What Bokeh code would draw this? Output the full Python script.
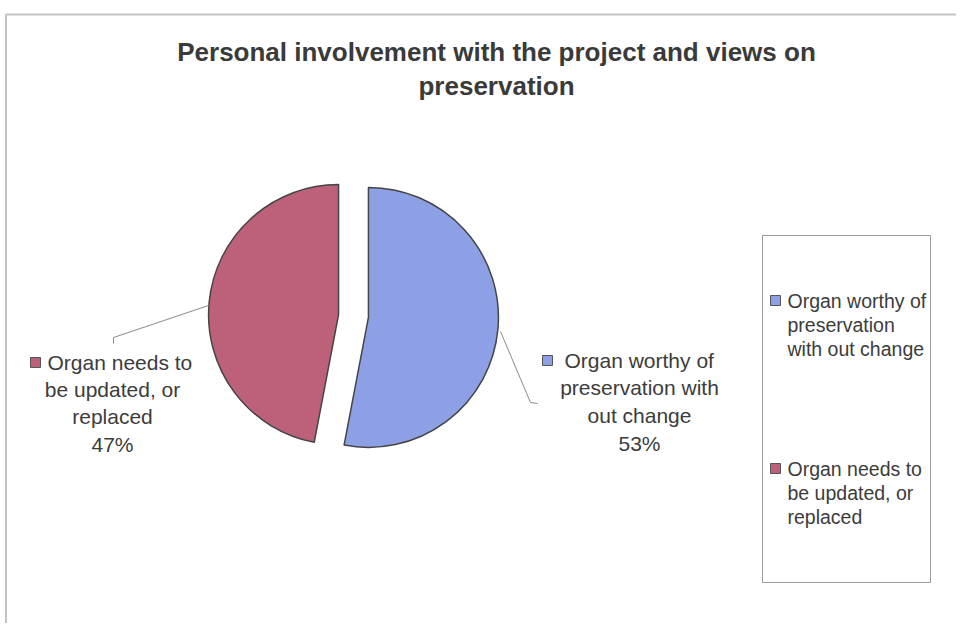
import math
from bokeh.plotting import figure
from bokeh.models import ColumnDataSource
from bokeh.core.properties import value
from bokeh.embed import file_html
from bokeh.resources import INLINE

# ---- data ----
categories = ["Organ worthy of preservation with out change",
              "Organ needs to be updated, or replaced"]
values = [53, 47]
pct_labels = ["53%", "47%"]
label_lines = [["Organ worthy of", "preservation with", "out change"],
               ["Organ needs to", "be updated, or", "replaced"]]
legend_lines = [["Organ worthy of", "preservation", "with out change"],
                ["Organ needs to", "be updated, or", "replaced"]]
colors = ["#8da0e6", "#bd6079"]
title_lines = ["Personal involvement with the project and views on", "preservation"]

W, H = 956, 623
FONT = "Liberation Sans"
TXT = "#3c3c3c"

def Y(py):  # picture y -> data y
    return H - py

def X(px):
    return px

p = figure(width=W, height=H, x_range=(0, W), y_range=(0, H),
           output_backend="svg", toolbar_location=None,
           x_axis_type=None, y_axis_type=None, min_border=0,
           outline_line_color=None, background_fill_color="white",
           border_fill_color="white")
p.grid.visible = False

# chart area border (top and left visible)
p.line(x=[X(5.5), X(5.5), W], y=[0, Y(14), Y(14)], line_color="#c4c4c4", line_width=2)

# title
p.text(x=[X(496)] * 2, y=[Y(51), Y(85)], text=title_lines,
       text_font=value(FONT), text_font_size="26px", text_font_style="bold",
       text_color="#3a3a3a", text_align="center", text_baseline="middle")

# pie
total = sum(values)
cx, cy, r, explode = X(353), Y(315.5), 130, 15
cum = 0.0
starts, ends, xs, ys = [], [], [], []
for v in values:
    c0 = cum / total
    c1 = (cum + v) / total
    cum += v
    s = math.pi / 2 - c1 * 2 * math.pi
    e = math.pi / 2 - c0 * 2 * math.pi
    mid = (s + e) / 2
    starts.append(s)
    ends.append(e)
    xs.append(cx + explode * math.cos(mid))
    ys.append(cy + explode * math.sin(mid))
src = ColumnDataSource(dict(x=xs, y=ys, start=starts, end=ends, color=colors, cat=categories))
p.wedge(x="x", y="y", radius=r, start_angle="start", end_angle="end",
        fill_color="color", line_color="#454545", line_width=1.5, source=src)

# leader lines
p.line(x=[X(500), X(530), X(537)], y=[Y(331), Y(402), Y(403)], line_color="#8a8a8a", line_width=1)
p.line(x=[X(208), X(113), X(113)], y=[Y(305), Y(337), Y(343)], line_color="#8a8a8a", line_width=1)

# data labels
lab_font = "21px"
# blue label
p.rect(x=[X(547)], y=[Y(360)], width=10, height=10, fill_color=colors[0], line_color="#555555", line_width=1)
p.text(x=[X(564)], y=[Y(360)], text=[label_lines[0][0]], text_font=value(FONT), text_font_size=lab_font,
       text_color=TXT, text_align="left", text_baseline="middle")
p.text(x=[X(639)] * 3, y=[Y(387), Y(415), Y(443)], text=[label_lines[0][1], label_lines[0][2], pct_labels[0]],
       text_font=value(FONT), text_font_size=lab_font, text_color=TXT,
       text_align="center", text_baseline="middle")
# red label
p.rect(x=[X(35)], y=[Y(362)], width=10, height=10, fill_color=colors[1], line_color="#555555", line_width=1)
p.text(x=[X(47)], y=[Y(362)], text=[label_lines[1][0]], text_font=value(FONT), text_font_size=lab_font,
       text_color=TXT, text_align="left", text_baseline="middle")
p.text(x=[X(112)] * 3, y=[Y(389), Y(416), Y(444)], text=[label_lines[1][1], label_lines[1][2], pct_labels[1]],
       text_font=value(FONT), text_font_size=lab_font, text_color=TXT,
       text_align="center", text_baseline="middle")

# legend box
p.quad(left=[X(762)], right=[X(930)], top=[Y(235)], bottom=[Y(582)],
       fill_color="white", line_color="#9a9a9a", line_width=1)
leg_font = "19.5px"
for i, (y0, lines) in enumerate(zip([300, 468], legend_lines)):
    p.rect(x=[X(775)], y=[Y(y0)], width=10, height=10, fill_color=colors[i],
           line_color="#555555", line_width=1)
    p.text(x=[X(787)] * 3, y=[Y(y0), Y(y0 + 24), Y(y0 + 48)], text=lines,
           text_font=value(FONT), text_font_size=leg_font, text_color=TXT,
           text_align="left", text_baseline="middle")

open("out.html", "w").write(file_html(p, INLINE))
